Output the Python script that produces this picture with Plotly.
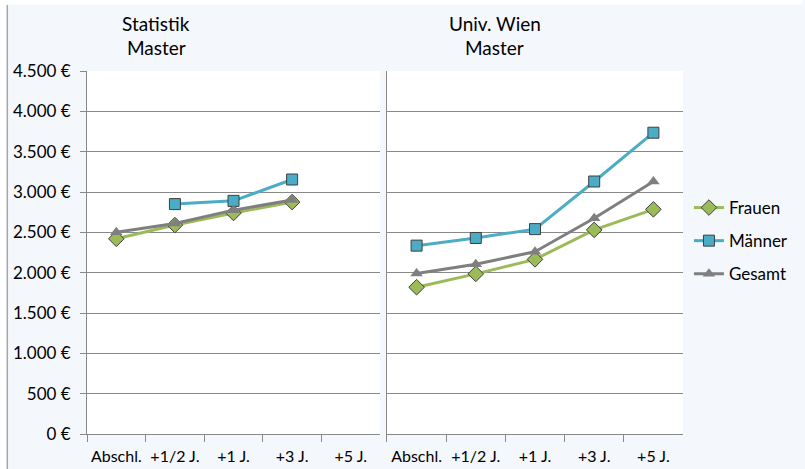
import plotly.graph_objects as go
from plotly.subplots import make_subplots

categories = ["Abschl.", "+1/2 J.", "+1 J.", "+3 J.", "+5 J."]
panel_titles = [["Statistik", "Master"], ["Univ. Wien", "Master"]]
series_names = ["Frauen", "Männer", "Gesamt"]

stat_frauen = [2420, 2590, 2740, 2875, None]
stat_maenner = [None, 2850, 2890, 3155, None]
stat_gesamt = [2500, 2610, 2775, 2900, None]

wien_frauen = [1820, 1985, 2165, 2530, 2785]
wien_maenner = [2335, 2430, 2540, 3130, 3735]
wien_gesamt = [1990, 2105, 2260, 2675, 3130]

y_tickvals = [0, 500, 1000, 1500, 2000, 2500, 3000, 3500, 4000, 4500]
y_ticktext = ["0 €", "500 €", "1.000 €", "1.500 €", "2.000 €", "2.500 €",
              "3.000 €", "3.500 €", "4.000 €", "4.500 €"]

colors = {"Frauen": "#9BBB59", "Männer": "#4BACC6", "Gesamt": "#7F7F7F"}
symbols = {"Frauen": "diamond", "Männer": "square", "Gesamt": "triangle-up"}
msizes = {"Frauen": 12, "Männer": 11, "Gesamt": 11}

W, H = 805, 469
ML, MR, MT, MB = 87, W - 689, 71, H - 434
PW, PH = W - ML - MR, H - MT - MB

def px_x(p):
    return (p - ML) / PW

def px_y(p):
    return (H - MB - p) / PH

fig = make_subplots(rows=1, cols=2, horizontal_spacing=px_x(390) - px_x(383))

panels = [
    {"Frauen": stat_frauen, "Männer": stat_maenner, "Gesamt": stat_gesamt},
    {"Frauen": wien_frauen, "Männer": wien_maenner, "Gesamt": wien_gesamt},
]

for ci, data in enumerate(panels):
    for name in series_names:
        mline = dict(color="#3F3F3F", width=1) if name != "Gesamt" else dict(color=colors[name], width=0)
        fig.add_trace(go.Scatter(
            x=categories, y=data[name], name=name, mode="lines+markers",
            line=dict(color=colors[name], width=3),
            marker=dict(symbol=symbols[name], size=msizes[name], color=colors[name], line=mline),
            legendgroup=name, showlegend=(ci == 1),
            connectgaps=False,
        ), row=1, col=ci + 1)

fig.update_layout(xaxis=dict(domain=[0, px_x(383)]), xaxis2=dict(domain=[px_x(390), 1]))

axis_color = "#898989"
for ci in (1, 2):
    fig.update_xaxes(type="category", categoryorder="array", categoryarray=categories,
                     range=[-0.5, 4.5], tickson="boundaries", ticks="outside", ticklen=7,
                     tickcolor=axis_color, showline=True, linecolor=axis_color, linewidth=1,
                     showgrid=False, tickfont=dict(size=16, color="#000000"),
                     tickangle=0, automargin=False, ticklabelstandoff=8,
                     row=1, col=ci)
    fig.update_yaxes(range=[0, 4500], tickvals=y_tickvals, ticktext=y_ticktext,
                     showgrid=True, gridcolor=axis_color, gridwidth=1,
                     showline=True, linecolor=axis_color, linewidth=1,
                     ticks="outside" if ci == 1 else "", ticklen=6, tickcolor=axis_color,
                     showticklabels=(ci == 1), zeroline=False, automargin=False,
                     tickfont=dict(size=17, color="#000000"),
                     ticklabelstandoff=6,
                     row=1, col=ci)

annotations = []
for xc, lines in zip([157, 499], panel_titles):
    for yc, txt in zip([24, 48], lines):
        annotations.append(dict(text=txt, x=px_x(xc), y=px_y(yc), xref="paper", yref="paper",
                                xanchor="center", yanchor="middle", showarrow=False,
                                font=dict(size=19, color="#000000")))

shapes = [
    dict(type="rect", xref="paper", yref="paper", x0=px_x(-5), x1=px_x(W + 5),
         y0=px_y(4.5), y1=px_y(-5), fillcolor="white", line=dict(width=0), layer="below"),
    dict(type="rect", xref="paper", yref="paper", x0=px_x(-5), x1=px_x(6),
         y0=px_y(H + 5), y1=px_y(-5), fillcolor="white", line=dict(width=0), layer="below"),
    dict(type="line", xref="paper", yref="paper", x0=px_x(6.5), x1=px_x(6.5),
         y0=px_y(H + 5), y1=px_y(5), line=dict(color="#A6A6A6", width=1.5)),
]

fig.update_layout(
    width=W, height=H,
    margin=dict(l=ML, r=MR, t=MT, b=MB),
    paper_bgcolor="#F4F7FC", plot_bgcolor="#FFFFFF",
    font=dict(family="Lato, Carlito, sans-serif", size=17, color="#000000"),
    annotations=annotations, shapes=shapes,
    legend=dict(x=px_x(695), y=px_y(241), xanchor="left", yanchor="middle",
                font=dict(size=17, color="#000000"), bgcolor="rgba(0,0,0,0)",
                tracegroupgap=8, itemwidth=30),
    showlegend=True,
)

fig.write_html("out.html", config={"displayModeBar": False},
               post_script="document.body.style.margin='0';")
